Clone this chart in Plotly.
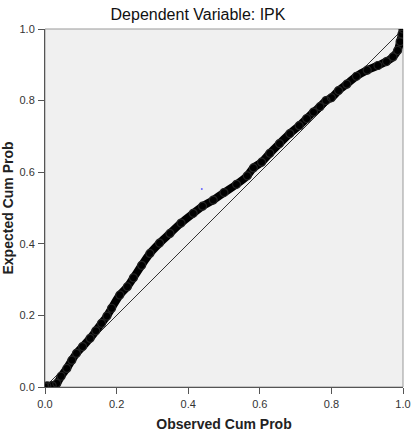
import plotly.graph_objects as go

observed = [0.0, 0.005, 0.02, 0.033, 0.045, 0.061, 0.075, 0.088, 0.105, 0.126,
            0.142, 0.158, 0.173, 0.186, 0.209, 0.23, 0.247, 0.27, 0.293, 0.32,
            0.349, 0.38, 0.414, 0.44, 0.47, 0.5, 0.535, 0.565, 0.582, 0.605,
            0.628, 0.655, 0.684, 0.71, 0.731, 0.75, 0.768, 0.785, 0.80, 0.82,
            0.843, 0.87, 0.9, 0.93, 0.954, 0.972, 0.985, 0.992, 0.997, 1.0]
expected = [0.0, 0.003, 0.004, 0.01, 0.03, 0.052, 0.075, 0.094, 0.113, 0.136,
            0.157, 0.178, 0.198, 0.22, 0.257, 0.28, 0.305, 0.34, 0.373, 0.402,
            0.429, 0.458, 0.485, 0.505, 0.522, 0.543, 0.566, 0.59, 0.612, 0.628,
            0.653, 0.68, 0.708, 0.73, 0.75, 0.768, 0.783, 0.80, 0.808, 0.828,
            0.846, 0.868, 0.885, 0.898, 0.909, 0.922, 0.94, 0.965, 0.985, 1.0]
ref_line = [0.0, 1.0]
tick_vals = [0.0, 0.2, 0.4, 0.6, 0.8, 1.0]
tick_text = ["0.0", "0.2", "0.4", "0.6", "0.8", "1.0"]
stray_x = [0.438]
stray_y = [0.553]

FONT = "Arial, Liberation Sans, sans-serif"

fig = go.Figure()
fig.add_trace(go.Scatter(x=ref_line, y=ref_line, mode="lines",
                         line=dict(color="#333333", width=1), hoverinfo="skip"))
fig.add_trace(go.Scatter(x=observed, y=expected, mode="lines",
                         line=dict(color="#000000", width=8, shape="spline")))
fig.add_trace(go.Scatter(x=observed, y=expected, mode="markers",
                         marker=dict(symbol="circle-open", size=8, color="#222222",
                                     line=dict(width=1.2))))
fig.add_trace(go.Scatter(x=stray_x, y=stray_y, mode="markers",
                         marker=dict(size=2, color="#6666ff")))

axis_common = dict(range=[0, 1], tickvals=tick_vals, ticktext=tick_text,
                   showgrid=False, zeroline=False, showline=True,
                   linecolor="#555555", linewidth=1, ticks="outside",
                   ticklen=6, tickcolor="#555555", automargin=False,
                   tickfont=dict(family=FONT, size=11, color="#333333"))

fig.update_layout(
    width=414, height=442,
    margin=dict(l=45, r=11, t=29, b=55),
    paper_bgcolor="white", plot_bgcolor="#f0f0f0",
    showlegend=False,
    title=dict(text="Dependent Variable: IPK", x=198 / 414, xanchor="center",
               y=1 - 14 / 442, yanchor="middle",
               font=dict(family=FONT, size=16, color="#111111")),
    xaxis=dict(**axis_common,
               title=dict(text="<b>Observed Cum Prob</b>", standoff=9,
                          font=dict(family=FONT, size=14, color="#222222"))),
    yaxis=dict(**axis_common,
               title=dict(text="<b>Expected Cum Prob</b>", standoff=5,
                          font=dict(family=FONT, size=14, color="#222222"))),
)
fig.update_xaxes(ticklabelstandoff=1)
fig.update_yaxes(ticklabelstandoff=1)
fig.add_shape(type="rect", xref="paper", yref="paper", x0=0, y0=0, x1=1, y1=1,
              line=dict(color="#999999", width=1), layer="below")

fig.write_html("out.html")
